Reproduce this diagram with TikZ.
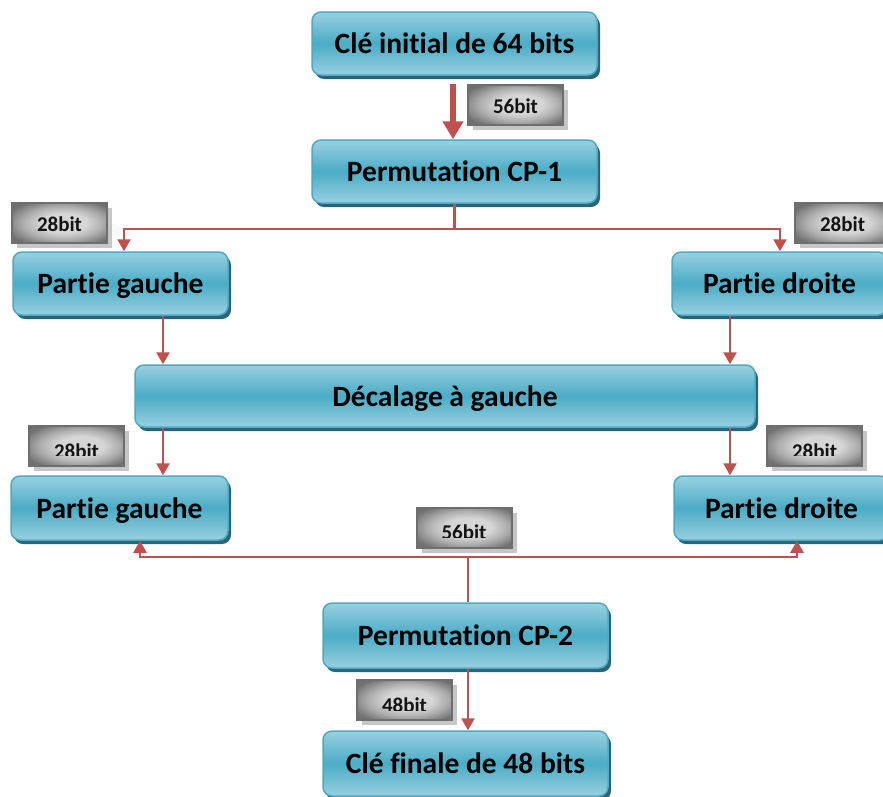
\documentclass[tikz,border=0pt]{standalone}
\usepackage{fontspec}
\setmainfont{Carlito}[Ligatures=NoCommon]
\usetikzlibrary{arrows.meta,shadows}

\definecolor{boxmid}{HTML}{4BACC6}
\definecolor{boxlight}{HTML}{98D0DF}
\definecolor{boxline}{HTML}{4FA9C4}
\definecolor{boxshadow}{HTML}{2A6475}
\definecolor{linkred}{HTML}{C0504D}
\definecolor{tagline}{HTML}{6E6E6E}
\definecolor{tagdark}{HTML}{707070}
\definecolor{tagmid}{HTML}{ADADAD}
\definecolor{taglight}{HTML}{D6D6D6}
\definecolor{tagshadow}{HTML}{C6C6C6}

% soft grey fill for the bit-width tags: light centre, darker corners
\pgfdeclareradialshading{tagshade}{\pgfpoint{3bp}{0bp}}{%
  color(0bp)=(taglight); color(12bp)=(taglight); color(21bp)=(tagmid);
  color(31bp)=(tagdark); color(50bp)=(tagdark)}

\tikzset{
  blockbox/.style={rectangle, rounded corners=9pt, draw=boxline, line width=1.5pt,
    top color=boxlight, bottom color=boxlight, middle color=boxmid,
    minimum height=63pt, text height=26pt, text depth=6pt,
    font=\fontsize{29.5}{31}\selectfont\bfseries, text=black,
    drop shadow={shadow xshift=3pt, shadow yshift=-4pt, fill=boxshadow, opacity=1}},
  tagbox/.style={rectangle, draw=tagline, line width=2pt,
    shading=tagshade,
    minimum width=95pt, minimum height=40pt,
    drop shadow={shadow xshift=5pt, shadow yshift=-5pt, fill=tagshadow, opacity=1}},
  tagtext/.style={anchor=base, inner sep=0pt, text=black!92,
    font=\fontsize{21}{22}\selectfont\bfseries},
  link/.style={draw=linkred, line width=2.5pt, -{Triangle[width=13pt,length=12pt]}},
  bus/.style={draw=linkred, line width=2.5pt},
  biglink/.style={draw=linkred, line width=6.5pt, -{Triangle[width=20pt,length=18pt]}}
}

\begin{document}
\begin{tikzpicture}[x=1pt,y=-1pt]
\useasboundingbox (0,0) rectangle (883,796);
\clip (0,0) rectangle (883,796);

% main blocks
\node[blockbox, minimum width=285pt] (init) at (454.5,43.5) {Clé initial de 64 bits};
\node[blockbox, minimum width=285pt] (cp1)  at (454.5,171.5) {Permutation CP-1};
\node[blockbox, minimum width=215pt] (pg1)  at (120.5,283.5) {Partie gauche};
\node[blockbox, minimum width=215pt] (pd1)  at (779.5,283.5) {Partie droite};
\node[blockbox, minimum width=620pt, minimum height=62pt] (dec) at (445,396) {Décalage à gauche};
\node[blockbox, minimum width=217pt, minimum height=64pt] (pg2) at (119.5,508) {Partie gauche};
\node[blockbox, minimum width=215pt, minimum height=64pt] (pd2) at (781.5,508) {Partie droite};
\node[blockbox, minimum width=285pt, minimum height=65pt] (cp2) at (465.5,635.5) {Permutation CP-2};
\node[blockbox, minimum width=285pt, minimum height=65pt] (fin) at (465.5,763.5) {Clé finale de 48 bits};

% bit-width tags
\node[tagbox] (t56a) at (515.5,104.5) {};
\node[tagtext] (t56a-text) at (515.5,113) {56bit};
\node[tagbox] (t28a) at (59.5,223) {};
\node[tagtext] (t28a-text) at (59.5,231.5) {28bit};
\node[tagbox] (t28b) at (842.5,223) {};
\node[tagtext] (t28b-text) at (842.5,231.5) {28bit};

% tags whose label sits low and is cut off by the text area
\node[tagbox] (t28c) at (76.5,446) {};
\node[tagbox] (t28d) at (814.5,446) {};
\node[tagbox] (t56b) at (464,527.5) {};
\node[tagbox] (t48)  at (404.5,700) {};
\begin{scope}
  \clip (29,426) rectangle (124,455.5);
  \node[tagtext] (t28c-text) at (76.5,458) {28bit};
\end{scope}
\begin{scope}
  \clip (767,426) rectangle (862,455.5);
  \node[tagtext] (t28d-text) at (814.5,458) {28bit};
\end{scope}
\begin{scope}
  \clip (416,507) rectangle (512,537);
  \node[tagtext] (t56b-text) at (464,539.5) {56bit};
\end{scope}
\begin{scope}
  \clip (357,680) rectangle (452,710);
  \node[tagtext] (t48-text) at (404.5,712.5) {48bit};
\end{scope}

% guide coordinates for the vertical connectors
\coordinate (gA) at (453,0);
\coordinate (gL) at (124,0);
\coordinate (gR) at (780,0);
\coordinate (gL2) at (163,0);
\coordinate (gR2) at (730,0);
\coordinate (gL3) at (140,0);
\coordinate (gR3) at (797,0);
\coordinate (gC) at (468,0);
\coordinate (bus1) at (454.5,229);
\coordinate (bus2) at (468,557);

% connectors
\draw[biglink] (gA |- 0,84) -- (gA |- cp1.north);
\draw[bus] (cp1.south) -- (bus1);
\draw[link] (bus1) -| (gL |- pg1.north);
\draw[link] (bus1) -| (gR |- pd1.north);
\draw[link] (gL2 |- pg1.south) -- (gL2 |- dec.north);
\draw[link] (gR2 |- pd1.south) -- (gR2 |- dec.north);
\draw[link] (gL2 |- dec.south) -- (gL2 |- pg2.north);
\draw[link] (gR2 |- dec.south) -- (gR2 |- pd2.north);
\draw[bus] (gC |- cp2.north) -- (bus2);
\draw[link] (bus2) -| (gL3 |- pg2.south);
\draw[link] (bus2) -| (gR3 |- pd2.south);
\draw[link] (gC |- cp2.south) -- (gC |- fin.north);
\end{tikzpicture}
\end{document}
